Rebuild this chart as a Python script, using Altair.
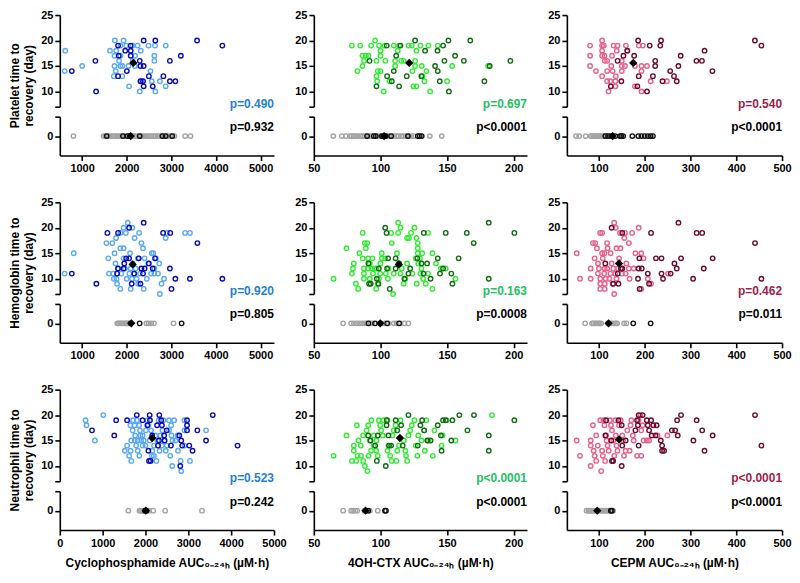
import altair as alt
import pandas as pd

FONT = "Liberation Sans"

# ---------------- layout numbers ----------------
U_H = 92      # upper (broken) part height
L_H = 39      # lower (zero) part height
GAP = 10
ROW_GAP = 47
WIDTHS = [215, 214, 216]
COL_GAP = 40

# ---------------- axes / labels ----------------
X_DOMAINS_TOP = [[500, 5300], [50, 210], [30, 500]]
X_DOMAINS_BOTTOM = [[0, 5000], [50, 210], [30, 500]]
X_TICKS_TOP = [[1000, 2000, 3000, 4000, 5000], [50, 100, 150, 200], [100, 200, 300, 400, 500]]
X_TICKS_BOTTOM = [[0, 1000, 2000, 3000, 4000, 5000], [50, 100, 150, 200], [100, 200, 300, 400, 500]]
X_TITLES = ["Cyclophosphamide AUC\u2080\u208b\u2082\u2084\u2095 (\u00b5M\u00b7h)",
            "4OH-CTX AUC\u2080\u208b\u2082\u2084\u2095 (\u00b5M\u00b7h)",
            "CEPM AUC\u2080\u208b\u2082\u2084\u2095 (\u00b5M\u00b7h)"]
Y_TITLES = [["Platelet time to", "recovery (day)"],
            ["Hemoglobin time to", "recovery (day)"],
            ["Neutrophil time to", "recovery (day)"]]

LIGHT_COLORS = ["#5aa9f2", "#33ea33", "#e8608a"]
DARK_COLORS = ["#0c0cb0", "#136b13", "#6a0b2f"]
P_COLORS = ["#1f80d8", "#25c062", "#a01d4b"]

P_TOP = [["p=0.490", "p=0.697", "p=0.540"],
         ["p=0.920", "p=0.163", "p=0.462"],
         ["p=0.523", "p<0.0001", "p<0.0001"]]
P_BOTTOM = [["p=0.932", "p<0.0001", "p<0.0001"],
            ["p=0.805", "p=0.0008", "p=0.011"],
            ["p=0.242", "p<0.0001", "p<0.0001"]]

# ---------------- data: Platelet ----------------
PLT_CY_LIGHT = [(609, 14), (623, 18), (1001, 15), (1625, 18), (1734, 20), (1763, 18), (1857, 19), (1930, 20),
                (1988, 19), (2133, 19), (2242, 19), (2488, 19), (2873, 19), (1726, 17), (1857, 17), (1828, 16),
                (1726, 15), (1857, 15), (1900, 15), (1755, 14), (1712, 13), (1900, 13), (2184, 17), (2314, 18),
                (2619, 17), (2619, 16), (2532, 14), (2561, 12), (2742, 12), (2329, 12), (2053, 11), (2873, 11),
                (2292, 10), (2641, 10), (2133, 16), (2184, 15), (2038, 15), (2634, 19)]
PLT_CY_DARK = [(769, 14), (1298, 16), (1313, 10), (1806, 19), (1821, 17), (1806, 13), (1966, 18), (2002, 14),
               (2089, 19), (2089, 17), (2089, 18), (2380, 20), (2641, 20), (2307, 15), (2380, 15), (2292, 16),
               (2365, 12), (2307, 12), (2380, 11), (2583, 11), (2496, 13), (2822, 13), (2967, 16), (3213, 17),
               (3576, 20), (4143, 19), (2967, 12), (3090, 12)]
PLT_CY_ZERO_GRAY = [805, 1480, 1520, 1555, 1600, 1640, 1690, 1725, 1770, 1800, 1850, 1880, 1925, 1960, 2010, 2040,
                    2100, 2130, 2180, 2215, 2260, 2310, 2345, 2390, 2430, 2470, 2520, 2555, 2600, 2640, 2690, 2720,
                    2770, 2810, 2850, 2900, 2940, 2990, 3030, 3070, 3310, 3430]
PLT_CY_ZERO_DARK = [1552, 1915, 2017, 2075, 2292, 2800, 2873, 3018]
PLT_CY_MEAN = (2147, 15.6)
PLT_CY_MEAN0 = 2089

PLT_OH_LIGHT = [(78.6, 19), (84.8, 19), (93, 19), (96, 20), (99, 19), (100, 18), (103, 19), (110, 19), (114, 19),
                (121, 19), (123.5, 19), (130, 19), (136, 19), (143, 19), (127, 18), (113, 18), (86.5, 17), (89, 17),
                (91, 17), (100, 17), (87.7, 16), (97, 16), (103.7, 16), (111, 16), (115.6, 16), (117.5, 16),
                (126, 16), (86.5, 15), (111, 15), (126, 15), (131, 15), (153.8, 15), (180.8, 15), (82.7, 14),
                (98, 14), (100, 14), (124, 14), (134.5, 14), (97, 13), (131.6, 13), (97.5, 12), (106.8, 12),
                (133, 12), (150, 12), (124.7, 11), (127, 11), (102.5, 10), (137.3, 10)]
PLT_OH_DARK = [(91.8, 16), (104.7, 19), (115, 19), (111.8, 17), (126, 20), (133.5, 18), (142.8, 18), (147, 19),
               (151, 20), (167.4, 20), (148, 16), (156, 17), (162.6, 16), (197.5, 16), (141, 15), (143, 14),
               (182, 15), (110, 14), (105, 13), (130.7, 13), (108.5, 12), (144.5, 12), (178, 12), (97, 11),
               (114, 11), (119.7, 13), (151.4, 10)]
PLT_OH_ZERO_GRAY = [64.6, 71, 74, 77, 78.5, 80, 81.5, 83, 85, 86.5, 88, 89.5, 91.5, 93, 94.5, 96.5, 98, 100,
                    101.5, 103, 105, 106.5, 108.5, 110, 112, 113.5, 115.5, 117, 119, 121, 123, 125, 137, 146]
PLT_OH_ZERO_DARK = [90, 95, 96.5, 101, 104, 108, 120.6, 128, 129.5, 131]
PLT_OH_MEAN = (121.6, 15.6)
PLT_OH_MEAN0 = 102.7

PLT_CE_LIGHT = [(80.7, 19), (80.7, 17), (80.7, 15), (93.6, 14), (107, 20), (110.7, 19), (107, 18), (112, 17),
                (118, 16), (107, 13), (118, 14), (127, 15), (132, 19), (140.7, 19), (139, 18), (118, 12), (121, 10),
                (136, 12), (137, 13), (136, 11), (130, 14), (150, 14), (150, 15), (157, 15), (159, 19), (162, 18),
                (178.6, 15), (187, 19), (196, 19), (193, 14), (193, 15), (205, 15), (213, 12), (193, 10),
                (178.6, 11), (248.6, 12), (128.6, 17), (107, 17), (107, 19), (113, 16), (125, 12), (150, 16)]
PLT_CE_DARK = [(126, 11), (140.7, 16), (153.6, 17), (162, 18), (149, 12), (177, 17), (185.7, 20), (187, 13),
               (184, 11), (211, 19), (205, 10), (218, 13), (223, 16), (223, 15), (235.7, 20), (234, 19), (239, 12),
               (255.7, 14), (264, 13), (270, 12), (273.6, 15), (278.6, 17), (313, 16), (325, 16), (330.7, 18),
               (348, 14), (440.7, 20), (455, 19)]
PLT_CE_ZERO_GRAY = [50, 57, 71, 82, 85, 89, 92, 96, 99, 103, 106, 110, 113, 117, 121, 124, 128]
PLT_CE_ZERO_DARK = [114, 120, 127, 136, 146, 149, 153, 173, 186, 193, 200, 207, 213, 218]
PLT_CE_MEAN = (175, 15.6)
PLT_CE_MEAN0 = 130

# ---------------- data: Hemoglobin ----------------
HGB_CY_LIGHT = [(609, 11), (812, 15), (1545, 17), (1762, 18), (1676, 17), (1588, 14), (1603, 11), (1698, 11),
                (1712, 10), (1784, 9), (1857, 8), (1727, 15), (1748, 13), (1857, 16), (1930, 16), (1930, 14),
                (1930, 20), (1980, 19), (1857, 19), (2060, 11), (2089, 12), (2074, 15), (2133, 13), (2118, 10),
                (2089, 8), (2176, 18), (2220, 10), (2278, 19), (2329, 17), (2365, 16), (2256, 9), (2380, 8),
                (2401, 14), (2481, 13), (2546, 11), (2597, 15), (2655, 14), (2619, 11), (2728, 13), (2779, 9),
                (2742, 7), (2836, 10), (2873, 18), (2909, 19), (3308, 19), (3416, 19), (2024, 21), (2125, 20),
                (1770, 10), (1800, 12), (1880, 11), (1960, 12), (2000, 10), (2160, 11), (2200, 12), (2250, 14),
                (2300, 11), (2450, 10), (2560, 15), (2620, 12), (2700, 11)]
HGB_CY_DARK = [(769, 11), (1320, 9), (1567, 19), (1806, 19), (1806, 12), (1784, 11), (1944, 13), (1988, 14),
               (2053, 14), (2053, 20), (1930, 12), (2168, 11), (2111, 9), (2270, 14), (2329, 12), (2401, 12),
               (2365, 11), (2307, 9), (2380, 21), (2496, 13), (2583, 12), (2634, 14), (2815, 19), (2975, 19),
               (2967, 12), (3090, 10), (3003, 8), (3416, 10), (3583, 17), (4143, 10)]
HGB_CY_ZERO_GRAY = [1790, 1820, 1850, 1880, 1910, 1945, 1975, 2000, 2030, 2060, 2440, 2490, 2550, 2610, 3050]
HGB_CY_ZERO_DARK = [2089, 2290, 3230]
HGB_CY_MEAN = (2133, 12.8)
HGB_CY_MEAN0 = 2103

HGB_OH_LIGHT = [(64.8, 10), (74.5, 16), (78.6, 11), (79.4, 12), (80, 13), (81.6, 9), (83.3, 8), (84.2, 15),
                (86.7, 19), (88.3, 17), (90, 17), (89, 16), (86.7, 14), (90.8, 14), (94, 14), (87.6, 12),
                (87.6, 11), (87.6, 10), (90.8, 12), (93.2, 12), (95.6, 12), (92, 10), (94.4, 11), (96.8, 8),
                (98.8, 10), (99.8, 11), (101, 14), (101, 15), (103.6, 14), (104, 11), (105.6, 10), (108, 19),
                (108.5, 17), (109.5, 7), (112.4, 15), (113.3, 19), (113.3, 21), (115, 20), (113.8, 13), (115, 11),
                (117.5, 9), (118.7, 10), (120, 18), (121.4, 18), (123, 19), (125.5, 20), (127, 18), (128, 17),
                (128, 16), (128, 15), (126.5, 14), (129.6, 14), (131.3, 15), (128.4, 13), (130.8, 12), (127.2, 9),
                (130, 11), (132, 10), (134, 9), (135.7, 19), (135.7, 11), (139, 15), (139, 8), (141.7, 13),
                (145.4, 12), (149, 12), (156.3, 10), (97, 12), (100, 13), (106, 12), (110, 11), (116, 12),
                (120, 13), (124, 11), (98, 9), (92, 13)]
HGB_OH_DARK = [(91.5, 9), (92.7, 9), (91, 13), (97.3, 10), (98.5, 9), (98.8, 12), (103.6, 20), (104.6, 19),
               (105.8, 14), (105, 12), (107, 8), (111.4, 14), (114, 13), (118, 10), (121, 11), (122.3, 12),
               (127.7, 14), (130.8, 13), (132.5, 19), (132.3, 11), (135, 13), (137.6, 10), (143, 14), (144.7, 11),
               (147, 12), (153.2, 11), (154, 9), (158.7, 14), (164.8, 19), (170, 17), (149, 19), (181.3, 10),
               (111.4, 12), (181.3, 21), (200.5, 19)]
HGB_OH_ZERO_GRAY = [72, 78, 80, 82, 84, 86, 88, 89.5, 91, 92.5, 94, 103, 106, 110, 112, 115, 118, 121]
HGB_OH_ZERO_DARK = [91, 96, 100, 105, 114]
HGB_OH_MEAN = (113.8, 12.8)
HGB_OH_MEAN0 = 99.8

HGB_CE_LIGHT = [(51.6, 15), (58.7, 10), (82, 12), (82, 10), (87, 17), (92, 17), (90.7, 14), (95.7, 16), (97.9, 13),
                (102.8, 19), (107, 19), (102.8, 10), (102.8, 9), (102.8, 8), (107, 15), (112, 15), (108.5, 14),
                (112.8, 12), (111.4, 11), (112.8, 9), (112.8, 8), (117.8, 17), (119, 16), (122.8, 10), (125.6, 15),
                (131.3, 12), (133.4, 21), (137, 20), (138.4, 16), (135.6, 11), (133.4, 7), (138.4, 10), (144, 14),
                (146, 19), (155.5, 18), (157, 19), (165.5, 17), (165.5, 12), (158.4, 11), (167, 10), (172.6, 19),
                (176, 12), (179.7, 15), (186.8, 20), (192.5, 15), (197.5, 14), (206.8, 10), (213.9, 9), (192.5, 8),
                (251, 11), (97.9, 11), (118, 12), (125, 11), (128, 13), (142, 12), (150, 11), (160, 13), (100, 12),
                (115, 10), (130, 9), (147, 16)]
HGB_CE_DARK = [(127.8, 20), (114, 13), (151, 19), (142.7, 9), (151, 12), (131.3, 9), (186.8, 12), (188.3, 14),
               (185.4, 10), (189, 8), (193.6, 12), (206.8, 11), (213.9, 19), (209.6, 9), (224.6, 14), (236.7, 14),
               (236.7, 11), (240, 10), (256.6, 11), (265, 13), (270, 12), (273.7, 21), (279.4, 14), (305.7, 10),
               (313.5, 19), (325.6, 19), (329, 12), (348.4, 14), (441, 17), (455, 10), (148, 12), (141, 11)]
HGB_CE_ZERO_GRAY = [70, 85, 88, 92, 95, 99, 102, 105, 120, 124, 128, 133, 137, 140, 155, 160]
HGB_CE_ZERO_DARK = [175, 213]
HGB_CE_MEAN = (144, 13.0)
HGB_CE_MEAN0 = 121

# ---------------- data: Neutrophil ----------------
NEU_CY_LIGHT = [(602, 19), (624, 18), (820, 15), (1015, 20), (1519, 13), (1571, 14), (1617, 12), (1669, 11),
                (1647, 18), (1707, 19), (1744, 18), (1669, 15), (1759, 16), (1782, 14), (1820, 13), (1857, 12),
                (1820, 15), (1872, 17), (1932, 16), (1932, 14), (2045, 19), (2068, 18), (2128, 17), (2158, 13),
                (2195, 12), (2255, 11), (2308, 19), (2398, 17), (2383, 14), (2421, 19), (2474, 13), (2549, 19),
                (2579, 12), (2609, 16), (2632, 15), (2669, 19), (2624, 10), (2820, 11), (2835, 9), (2910, 17),
                (2910, 19), (2910, 14), (3038, 11), (3414, 17), (2759, 13), (2233, 16), (2331, 13), (1700, 17),
                (1800, 19), (1850, 18), (1900, 15), (1960, 15), (2000, 14), (2010, 17), (2100, 15), (2200, 14),
                (2280, 15), (2350, 16), (2450, 15), (2500, 14), (2550, 17), (2700, 15), (2750, 16), (1880, 16),
                (1750, 15), (1650, 13), (2150, 12), (2600, 18)]
NEU_CY_DARK = [(752, 17), (1271, 16), (1316, 19), (1571, 19), (1797, 20), (1932, 19), (2045, 18), (2098, 20),
               (2105, 19), (2068, 13), (2083, 11), (2120, 11), (2158, 16), (2271, 18), (2323, 20), (2368, 19),
               (2383, 18), (2436, 16), (2444, 15), (2293, 14), (2496, 17), (2594, 14), (2789, 16), (2812, 10),
               (2835, 15), (2857, 14), (2970, 19), (2970, 18), (2970, 17), (3023, 14), (3098, 13), (3211, 17),
               (3414, 15), (3571, 20), (4150, 14), (2316, 15)]
NEU_CY_ZERO_GRAY = [1600, 1860, 1890, 1920, 1950, 1975, 2040, 2080, 2180, 2460, 3320]
NEU_CY_ZERO_DARK = [1990, 2020]
NEU_CY_MEAN = (2158, 15.5)
NEU_CY_MEAN0 = 2008

NEU_OH_LIGHT = [(64.8, 12), (74.5, 16), (78.6, 11), (80, 13), (80, 14), (81.8, 11), (82.3, 18), (82.8, 12),
                (83.5, 15), (85.2, 14), (85.5, 12), (87, 16), (87, 11), (88.3, 10), (89.6, 17), (90.3, 9),
                (90.8, 18), (93.2, 19), (92, 15), (94.9, 14), (96.8, 13), (98, 12), (98.8, 19), (99.8, 18),
                (100.5, 17), (101.7, 16), (102.4, 19), (105.3, 19), (105.3, 13), (106, 14), (107.3, 12), (108.5, 11),
                (109, 16), (110, 17), (111.4, 18), (111.9, 11), (112.6, 13), (113.8, 14), (115, 19), (117.5, 15),
                (118.7, 13), (119.2, 12), (120, 11), (121, 16), (122.3, 17), (123.5, 18), (125.5, 19), (126.5, 14),
                (127.7, 12), (128.4, 16), (130.8, 15), (132.8, 17), (133.3, 13), (134.5, 19), (136, 15),
                (139.3, 12), (140.5, 17), (146.6, 16), (145.9, 14), (149.5, 19), (156.3, 15), (183.7, 20),
                (95, 16), (93, 13), (97, 15), (91, 12)]
NEU_OH_DARK = [(90.8, 16), (92.5, 15), (96, 14), (97.3, 11), (98, 16), (104, 10), (104.6, 18), (104.8, 19),
               (106, 16), (106.5, 14), (108, 14), (111.4, 19), (112.6, 17), (115.5, 18), (116.7, 14), (121, 20),
               (128, 14), (130, 18), (131.3, 19), (132.8, 17), (135.2, 15), (137.6, 15), (143, 18), (145.4, 16),
               (147, 19), (149, 19), (153.2, 15), (154, 19), (159.2, 20), (165.3, 17), (170.2, 20), (145.9, 13),
               (181.3, 16), (181.3, 13), (200.5, 19)]
NEU_OH_ZERO_GRAY = [72, 78, 79.5, 81, 82.5, 88, 90, 92, 98]
NEU_OH_ZERO_DARK = [90.8, 103.4, 104.1]
NEU_OH_MEAN = (114.6, 15.5)
NEU_OH_MEAN0 = 88.8

NEU_CE_LIGHT = [(51.4, 15), (58.6, 12), (82, 10), (82, 15), (82, 14), (87, 18), (88.6, 13), (90.7, 12), (94, 11),
                (94, 16), (97.6, 14), (102.8, 19), (105, 9), (107, 13), (108.6, 12), (110, 19), (112, 18),
                (113.5, 11), (115.7, 16), (117, 15), (119, 14), (121.4, 13), (124, 19), (126.3, 18), (128.5, 17),
                (130, 11), (131.4, 15), (133.4, 12), (135.6, 19), (137, 16), (138.4, 14), (140.6, 13), (144, 18),
                (147.7, 19), (151, 16), (152.7, 15), (154.8, 12), (158.4, 13), (162, 17), (167, 13), (169, 18),
                (171, 19), (174, 16), (176, 15), (183.4, 12), (186.8, 19), (190.4, 20), (192.5, 17), (192.5, 12),
                (195.4, 18), (197.5, 15), (204.6, 15), (209.6, 15), (228, 16), (249.5, 16)]
NEU_CE_DARK = [(115.7, 19), (114.2, 16), (127, 15), (128.5, 11), (131, 11), (142.7, 19), (149.8, 18), (151, 14),
               (149.8, 10), (158.4, 15), (183.4, 19), (185, 18), (186.8, 20), (186.8, 14), (179.7, 17), (195.4, 20),
               (204.6, 19), (206.8, 18), (213.9, 19), (218.9, 18), (209.6, 17), (215.3, 16), (223.8, 16),
               (226, 18), (235.2, 15), (238, 14), (238, 13), (242.3, 13), (259.4, 17), (266.5, 17), (272.2, 16),
               (270.8, 19), (279.4, 20), (306.4, 15), (313.5, 19), (325.6, 17), (330.6, 13), (348.4, 16),
               (441, 20), (455, 14)]
NEU_CE_ZERO_GRAY = [73, 77, 80, 83, 86, 89, 92, 95, 99, 102, 106, 109, 113, 117, 121, 125, 131]
NEU_CE_ZERO_DARK = [126, 128.5]
NEU_CE_MEAN = (144, 15.2)
NEU_CE_MEAN0 = 96.4

PANELS = [
    [(PLT_CY_LIGHT, PLT_CY_DARK, PLT_CY_ZERO_GRAY, PLT_CY_ZERO_DARK, PLT_CY_MEAN, PLT_CY_MEAN0),
     (PLT_OH_LIGHT, PLT_OH_DARK, PLT_OH_ZERO_GRAY, PLT_OH_ZERO_DARK, PLT_OH_MEAN, PLT_OH_MEAN0),
     (PLT_CE_LIGHT, PLT_CE_DARK, PLT_CE_ZERO_GRAY, PLT_CE_ZERO_DARK, PLT_CE_MEAN, PLT_CE_MEAN0)],
    [(HGB_CY_LIGHT, HGB_CY_DARK, HGB_CY_ZERO_GRAY, HGB_CY_ZERO_DARK, HGB_CY_MEAN, HGB_CY_MEAN0),
     (HGB_OH_LIGHT, HGB_OH_DARK, HGB_OH_ZERO_GRAY, HGB_OH_ZERO_DARK, HGB_OH_MEAN, HGB_OH_MEAN0),
     (HGB_CE_LIGHT, HGB_CE_DARK, HGB_CE_ZERO_GRAY, HGB_CE_ZERO_DARK, HGB_CE_MEAN, HGB_CE_MEAN0)],
    [(NEU_CY_LIGHT, NEU_CY_DARK, NEU_CY_ZERO_GRAY, NEU_CY_ZERO_DARK, NEU_CY_MEAN, NEU_CY_MEAN0),
     (NEU_OH_LIGHT, NEU_OH_DARK, NEU_OH_ZERO_GRAY, NEU_OH_ZERO_DARK, NEU_OH_MEAN, NEU_OH_MEAN0),
     (NEU_CE_LIGHT, NEU_CE_DARK, NEU_CE_ZERO_GRAY, NEU_CE_ZERO_DARK, NEU_CE_MEAN, NEU_CE_MEAN0)],
]


def pts(pairs):
    return pd.DataFrame({"x": [p[0] for p in pairs], "y": [p[1] for p in pairs]})


def zeros(xs):
    return pd.DataFrame({"x": list(xs), "y": [0] * len(xs)})


def circles(df, color, xenc, yenc):
    return alt.Chart(df).mark_point(shape="circle", filled=False, size=20, strokeWidth=1.4,
                                    color=color, opacity=1).encode(x=xenc, y=yenc)


def diamond(df, xenc, yenc):
    return alt.Chart(df).mark_point(shape="diamond", filled=True, size=70, color="black",
                                    opacity=1).encode(x=xenc, y=yenc)


def ptext(txt, color, W, ypix):
    return alt.Chart(pd.DataFrame({"t": [txt]})).mark_text(
        align="right", baseline="middle", font=FONT, fontSize=12, fontWeight="bold", color=color
    ).encode(text="t:N", x=alt.value(W), y=alt.value(ypix))


def make_upper(r, c):
    light, dark, zg, zd, mean, mean0 = PANELS[r][c]
    W = WIDTHS[c]
    bottom = (r == 2)
    xdom = X_DOMAINS_BOTTOM[c] if bottom else X_DOMAINS_TOP[c]
    xs = alt.Scale(domain=xdom, nice=False, zero=False)
    ytitle = Y_TITLES[r] if c == 0 else None
    yax_u = alt.Axis(values=[7, 10, 15, 20, 25], labelExpr="datum.value == 7 ? '' : datum.label",
                     title=ytitle, titleY=(U_H + GAP + L_H) / 2, titlePadding=5, domain=True)
    xu = alt.X("x:Q", scale=xs, axis=None)
    yu = alt.Y("y:Q", scale=alt.Scale(domain=[7, 25], nice=False, zero=False), axis=yax_u)
    return alt.layer(
        circles(pts(light), LIGHT_COLORS[c], xu, yu),
        circles(pts(dark), DARK_COLORS[c], xu, yu),
        diamond(pts([mean]), xu, yu),
        ptext(P_TOP[r][c], P_COLORS[c], W, U_H - 3),
    ).properties(width=W, height=U_H)


def make_lower(r, c):
    light, dark, zg, zd, mean, mean0 = PANELS[r][c]
    W = WIDTHS[c]
    bottom = (r == 2)
    xdom = X_DOMAINS_BOTTOM[c] if bottom else X_DOMAINS_TOP[c]
    xticks = X_TICKS_BOTTOM[c] if bottom else X_TICKS_TOP[c]
    xs = alt.Scale(domain=xdom, nice=False, zero=False)
    xtitle = X_TITLES[c] if bottom else None
    xl = alt.X("x:Q", scale=xs, axis=alt.Axis(values=xticks, title=xtitle, titlePadding=10, format="d",
                                                domain=True))
    yl = alt.Y("y:Q", scale=alt.Scale(domain=[-1, 1], nice=False, zero=False),
               axis=alt.Axis(values=[0, 1], labelExpr="datum.value == 1 ? '' : datum.label", title=None,
                             domain=True))
    return alt.layer(
        circles(zeros(zg), "#a3a3a3", xl, yl),
        circles(zeros(zd), "#111111", xl, yl),
        diamond(zeros([mean0]), xl, yl),
        ptext(P_BOTTOM[r][c], "black", W, 10.5),
    ).properties(width=W, height=L_H)


def spacer(c):
    return alt.Chart(pd.DataFrame({"v": [0]})).mark_point(opacity=0).encode(
        x=alt.X("v:Q", axis=None), y=alt.Y("v:Q", axis=None)
    ).properties(width=WIDTHS[c], height=ROW_GAP - 2 * GAP)


cells = []
for r in range(3):
    cells += [make_upper(r, c) for c in range(3)]
    cells += [make_lower(r, c) for c in range(3)]
    if r < 2:
        cells += [spacer(c) for c in range(3)]

chart = alt.concat(*cells, columns=3, spacing={"row": GAP, "column": COL_GAP}, bounds="flush").properties(
    padding={"left": 0, "top": 0, "right": 0, "bottom": 0}
).configure_axis(
    domain=True, domainColor="black", domainWidth=1.6, tickColor="black", tickWidth=1.6, tickSize=5,
    labelFont=FONT, labelFontSize=11, labelFontWeight="bold", labelColor="black", labelPadding=2,
    labelFlush=False, labelOverlap=False,
    titleFont=FONT, titleFontSize=12, titleFontWeight="bold", titleColor="black", grid=False
).configure_view(stroke=None)

chart.save("out.html", embed_options={"renderer": "svg", "actions": False})
